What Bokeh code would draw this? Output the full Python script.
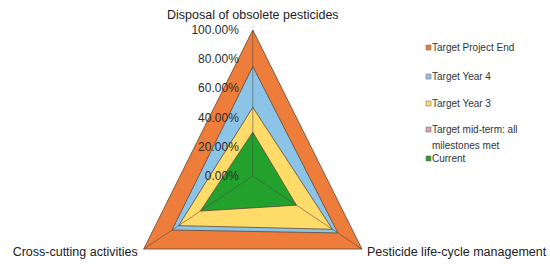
import numpy as np
from bokeh.plotting import figure
from bokeh.models import Range1d, Label
from bokeh.core.properties import value
from bokeh.embed import file_html
from bokeh.resources import INLINE

# ---- data ----
categories = ["Disposal of obsolete pesticides", "Pesticide life-cycle management", "Cross-cutting activities"]
angles_deg = [90, -30, 210]
tick_values = [0.0, 0.2, 0.4, 0.6, 0.8, 1.0]
tick_labels = ["0.00%", "20.00%", "40.00%", "60.00%", "80.00%", "100.00%"]

series_names = ["Target Project End", "Target Year 4", "Target Year 3",
                "Target mid-term: all\nmilestones met", "Current"]
target_project_end = [1.00, 1.00, 1.00]
target_year4 = [0.75, 0.78, 0.74]
target_year3 = [0.47, 0.73, 0.68]
target_midterm = [0.25, 0.35, 0.40]
current = [0.30, 0.40, 0.48]
series_values = [target_project_end, target_year4, target_year3, target_midterm, current]
series_colors = ["#EE7D3B", "#8CC4E8", "#FFDC6A", "#D9A3B5", "#22A12C"]

W, H = 550, 264
SX, SY = 126.0, 146.0          # px per unit (chart is horizontally compressed)
CX, CY = 252.3, 175.5          # centre in canvas px
x0 = -CX / SX
x1 = x0 + W / SX
y1 = CY / SY
y0 = y1 - H / SY

p = figure(width=W, height=H, output_backend="svg", toolbar_location=None,
           x_range=Range1d(x0, x1), y_range=Range1d(y0, y1), min_border=0)
p.axis.visible = False
p.grid.visible = False
p.outline_line_color = None
p.background_fill_color = "white"

ang = np.radians(angles_deg)
outline = "#5E4632"
for vals, col in zip(series_values, series_colors):
    r = np.array(vals)
    p.patch(list(r * np.cos(ang)), list(r * np.sin(ang)), fill_color=col,
            line_color=outline, line_width=0.8)

# spokes
for a in ang:
    p.line([0, np.cos(a)], [0, np.sin(a)], line_color="#4a4a4a", line_width=0.7, line_alpha=0.8)

font = value("Liberation Sans")
# tick labels on top axis
p.text(x=[0] * len(tick_values), y=tick_values, text=tick_labels, text_font=font,
       text_font_size="12px", text_align="right", text_baseline="middle",
       x_offset=-14, text_color="#2b2b2b")

# category labels
p.text(x=[0], y=[1], text=[categories[0]], text_font=font, text_font_size="12.5px",
       text_align="center", text_baseline="middle", y_offset=-15, x_offset=0, text_color="#222222")
p.text(x=[np.cos(ang[1])], y=[np.sin(ang[1])], text=[categories[1]], text_font=font,
       text_font_size="12.5px", text_align="left", text_baseline="middle", x_offset=5,
       y_offset=3, text_color="#222222")
p.text(x=[np.cos(ang[2])], y=[np.sin(ang[2])], text=[categories[2]], text_font=font,
       text_font_size="12.5px", text_align="right", text_baseline="middle", x_offset=-6,
       y_offset=3, text_color="#222222")

# manual legend (screen positions)
def to_data(px, py):
    return x0 + px / SX, y1 - py / SY

leg_rows = [47, 76, 103, 129, 158]
for name, col, py in zip(series_names, series_colors, leg_rows):
    lx, ly = to_data(428, py)
    p.scatter([lx], [ly], marker="square", size=5, fill_color=col, line_color="#8a7070", line_width=0.6)
    lines = name.split("\n")
    for i, t in enumerate(lines):
        p.add_layout(Label(x=431.5, y=H - py - i * 16, x_units="screen", y_units="screen", text=t,
                           text_font="Liberation Sans", text_font_size="10px",
                           text_baseline="middle", text_color="#333333"))

open("out.html", "w").write(file_html(p, INLINE))
